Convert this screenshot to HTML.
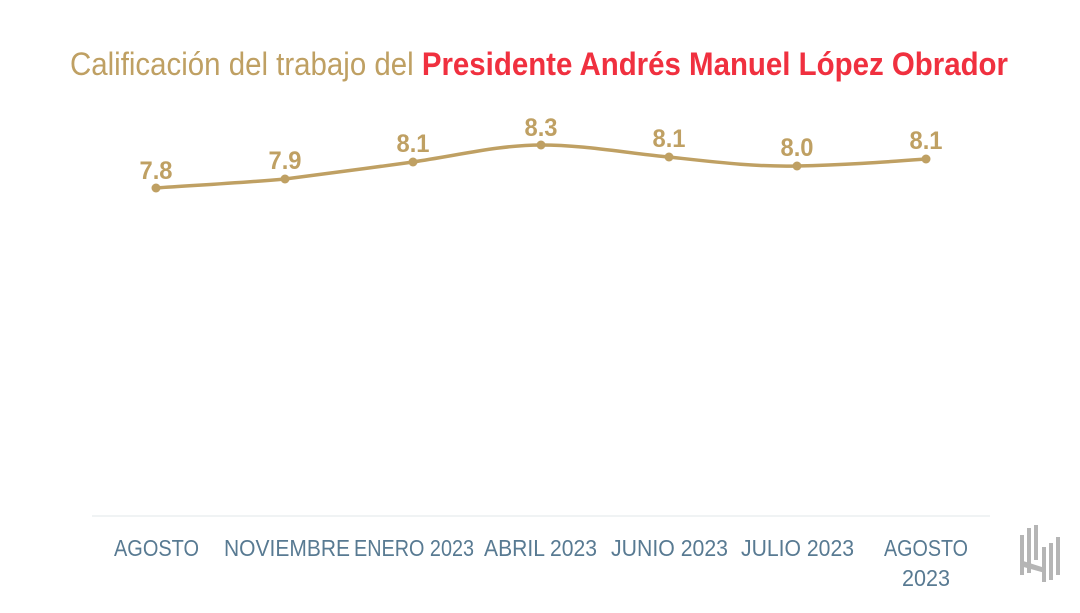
<!DOCTYPE html>
<html><head><meta charset="utf-8"><style>
body{margin:0;width:1080px;height:608px;background:#fff;overflow:hidden;font-family:"Liberation Sans",sans-serif}
</style></head><body>
<svg width="1080" height="608" xmlns="http://www.w3.org/2000/svg" font-family="Liberation Sans, sans-serif">
<text x="70" y="75" font-size="32" textLength="938" lengthAdjust="spacingAndGlyphs" fill="#bfa063">Calificación del trabajo del <tspan fill="#f0303f" font-weight="bold">Presidente Andrés Manuel López Obrador</tspan></text>
<line x1="92" y1="516" x2="990" y2="516" stroke="#eceff1" stroke-width="1.5"/>
<path d="M156,188 C200,185 240,183 285,179 C330,173 370,168 413,162 C460,155 500,145 541,145 C585,145 625,153 669,157 C715,162 755,167 797,166 C845,165 885,162 926,159" fill="none" stroke="#bfa063" stroke-width="3.5"/>
<g fill="#bfa063">
<circle cx="156" cy="188" r="4.5"/><circle cx="285" cy="179" r="4.5"/><circle cx="413" cy="162" r="4.5"/><circle cx="541" cy="145" r="4.5"/><circle cx="669" cy="157" r="4.5"/><circle cx="797" cy="166" r="4.5"/><circle cx="926" cy="159" r="4.5"/>
</g>
<g fill="#bfa063" font-size="25" font-weight="bold" text-anchor="middle">
<text x="156" y="179" textLength="33" lengthAdjust="spacingAndGlyphs">7.8</text><text x="285" y="169" textLength="33" lengthAdjust="spacingAndGlyphs">7.9</text><text x="413" y="152" textLength="33" lengthAdjust="spacingAndGlyphs">8.1</text><text x="541" y="136" textLength="33" lengthAdjust="spacingAndGlyphs">8.3</text><text x="669" y="147" textLength="33" lengthAdjust="spacingAndGlyphs">8.1</text><text x="797" y="156" textLength="33" lengthAdjust="spacingAndGlyphs">8.0</text><text x="926" y="149" textLength="33" lengthAdjust="spacingAndGlyphs">8.1</text>
</g>
<g fill="#587a92" font-size="23" lengthAdjust="spacingAndGlyphs">
<text x="114" y="556" textLength="85" lengthAdjust="spacingAndGlyphs">AGOSTO</text>
<text x="224" y="556" textLength="126" lengthAdjust="spacingAndGlyphs">NOVIEMBRE</text>
<text x="354" y="556" textLength="120" lengthAdjust="spacingAndGlyphs">ENERO 2023</text>
<text x="484" y="556" textLength="113" lengthAdjust="spacingAndGlyphs">ABRIL 2023</text>
<text x="611" y="556" textLength="117" lengthAdjust="spacingAndGlyphs">JUNIO 2023</text>
<text x="741" y="556" textLength="113" lengthAdjust="spacingAndGlyphs">JULIO 2023</text>
<text x="884" y="556" textLength="84" lengthAdjust="spacingAndGlyphs">AGOSTO</text>
<text x="902" y="586" textLength="48" lengthAdjust="spacingAndGlyphs">2023</text>
</g>
<g fill="#b5b5b5">
<rect x="1020" y="535" width="4" height="40"/><rect x="1027" y="528" width="4" height="45"/><rect x="1034" y="525" width="4" height="35"/>
<polygon points="1020,560 1045,568 1045,573 1020,566"/>
<rect x="1042" y="547" width="4" height="35"/><rect x="1049" y="543" width="4" height="37"/><rect x="1056" y="537" width="4" height="38"/>
</g>
</svg>
</body></html>
